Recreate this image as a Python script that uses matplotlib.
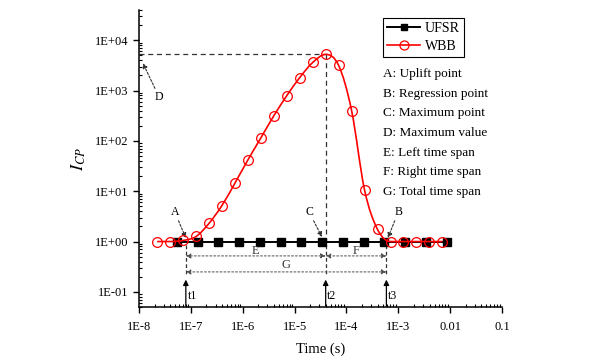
import numpy as np
import matplotlib
matplotlib.use('Agg')
import matplotlib.pyplot as plt
from matplotlib.path import Path
from matplotlib.patches import PathPatch
from matplotlib.lines import Line2D

plt.rcParams['font.family'] = ['Liberation Serif', 'DejaVu Serif']
plt.rcParams['mathtext.fontset'] = 'stix'

# UFSR series (flat at 1)
ufsr_t = [5.37e-8, 1.35e-7, 3.39e-7, 8.51e-7, 2.14e-6, 5.37e-6, 1.35e-5,
          3.39e-5, 8.51e-5, 2.14e-4, 5.37e-4, 1.35e-3, 3.39e-3, 8.51e-3]
ufsr_i = [1.0] * len(ufsr_t)

# WBB series
wbb_t = [2.24e-8, 3.98e-8, 7.08e-8, 1.26e-7, 2.24e-7, 3.98e-7, 7.08e-7, 1.26e-6,
         2.24e-6, 3.98e-6, 7.08e-6, 1.26e-5, 2.24e-5, 3.98e-5, 7.08e-5, 1.26e-4,
         2.24e-4, 3.98e-4, 7.08e-4, 1.26e-3, 2.24e-3, 3.98e-3, 7.08e-3]
wbb_i = [1.0, 1.0, 1.05, 1.26, 2.3, 5.2, 14.5, 42, 115, 316, 794, 1820, 3630,
         5250, 3160, 398, 10.5, 1.74, 1.0, 1.0, 1.0, 1.0, 1.0]

# key times / values
t1, t2, t3 = 8.0e-8, 3.98e-5, 5.9e-4
peak = 5250

xticks = [1e-8, 1e-7, 1e-6, 1e-5, 1e-4, 1e-3, 1e-2, 1e-1]
xticklabels = ['1E-8', '1E-7', '1E-6', '1E-5', '1E-4', '1E-3', '0.01', '0.1']
yticks = [1e-1, 1e0, 1e1, 1e2, 1e3, 1e4]
yticklabels = ['1E-01', '1E+00', '1E+01', '1E+02', '1E+03', '1E+04']

notes = ['A: Uplift point', 'B: Regression point', 'C: Maximum point',
         'D: Maximum value', 'E: Left time span', 'F: Right time span',
         'G: Total time span']


def smooth_path(x, y):
    # monotone cubic (Fritsch-Carlson) as Bezier segments in log-log space
    lx, ly = np.log10(x), np.log10(y)
    h = np.diff(lx)
    d = np.diff(ly) / h
    m = np.zeros_like(lx)
    m[0], m[-1] = d[0], d[-1]
    for k in range(1, len(lx) - 1):
        if d[k - 1] * d[k] > 0:
            m[k] = (d[k - 1] + d[k]) / 2
    for k in range(len(d)):
        if d[k] == 0:
            m[k] = m[k + 1] = 0
        else:
            a, b = m[k] / d[k], m[k + 1] / d[k]
            s = a * a + b * b
            if s > 9:
                tau = 3 / np.sqrt(s)
                m[k], m[k + 1] = tau * a * d[k], tau * b * d[k]
    verts = [(lx[0], ly[0])]
    codes = [Path.MOVETO]
    for k in range(len(h)):
        verts += [(lx[k] + h[k] / 3, ly[k] + m[k] * h[k] / 3),
                  (lx[k + 1] - h[k] / 3, ly[k + 1] - m[k + 1] * h[k] / 3),
                  (lx[k + 1], ly[k + 1])]
        codes += [Path.CURVE4] * 3
    verts = 10 ** np.array(verts)
    return Path(verts, codes)


fig = plt.figure(figsize=(5.91, 3.64), dpi=100)
ax = fig.add_axes([0.2352, 0.1566, 0.6142, 0.8159])
ax.set_xscale('log')
ax.set_yscale('log')
ax.set_xlim(1e-8, 1e-1)
ax.set_ylim(0.05, 4e4)

ax.plot(ufsr_t, ufsr_i, color='black', lw=1.4, marker='s', ms=5.5, zorder=3)
ax.add_patch(PathPatch(smooth_path(wbb_t, wbb_i), fill=False, ec='red', lw=1.2, zorder=4))
ax.plot(wbb_t, wbb_i, ls='none', marker='o', ms=7, mfc='none', mec='red', mew=0.9, zorder=5)

# guide lines
dash = dict(color='0.2', lw=0.9, ls=(0, (4, 3)))
ax.plot([1e-8, t2], [peak, peak], **dash)
ax.plot([t2, t2], [peak, 1.0], **dash)
for t in (t1, t2, t3):
    ax.plot([t, t], [0.85, 0.22], color='0.2', lw=0.9, ls=(0, (3, 2)))
    ax.annotate('', xy=(t, 0.175), xytext=(t, 0.052),
                arrowprops=dict(arrowstyle='-|>', color='black', lw=0.9,
                                mutation_scale=8, shrinkA=0, shrinkB=0))
    ax.text(t * 1.07, 0.083, 't%d' % ((t1, t2, t3).index(t) + 1), fontsize=8.5,
            ha='left', va='center')

span = dict(arrowstyle='<|-|>', color='0.3', lw=0.7, ls=(0, (2, 2)),
            mutation_scale=7, shrinkA=0, shrinkB=0)
ax.annotate('', xy=(t1, 0.518), xytext=(t2, 0.518), arrowprops=span)
ax.annotate('', xy=(t2, 0.518), xytext=(t3, 0.518), arrowprops=span)
ax.annotate('', xy=(t1, 0.249), xytext=(t3, 0.249), arrowprops=span)
ax.text(np.sqrt(t1 * t2), 0.66, 'E', fontsize=9, ha='center', va='center', color='0.2')
ax.text(np.sqrt(t2 * t3), 0.66, 'F', fontsize=9, ha='center', va='center', color='0.2')
ax.text(np.sqrt(t1 * t3), 0.34, 'G', fontsize=9, ha='center', va='center', color='0.2')

# point labels
point = dict(arrowstyle='-|>', color='0.2', lw=0.8, ls=(0, (2, 1.5)),
             mutation_scale=7, shrinkA=0, shrinkB=0)
ax.annotate('A', xy=(t1, 1.18), xytext=(4.9e-8, 3.87), fontsize=8.5, ha='center',
            va='center', arrowprops=point)
ax.annotate('C', xy=(3.38e-5, 1.23), xytext=(1.9e-5, 3.87), fontsize=8.5, ha='center',
            va='center', arrowprops=point)
ax.annotate('B', xy=(6.3e-4, 1.18), xytext=(1.0e-3, 3.87), fontsize=8.5, ha='center',
            va='center', arrowprops=point)
ax.annotate('D', xy=(1.19e-8, 3500), xytext=(2.45e-8, 740), fontsize=8.5, ha='center',
            va='center', arrowprops=point)

ax.set_xticks(xticks)
ax.set_xticklabels(xticklabels)
ax.set_yticks(yticks)
ax.set_yticklabels(yticklabels)
ax.tick_params(which='major', direction='out', length=4, width=1, labelsize=9)
ax.tick_params(axis='x', which='major', pad=6)
ax.tick_params(which='minor', direction='in', length=2.5, width=0.8)
for s in ('top', 'right'):
    ax.spines[s].set_visible(False)
for s in ('left', 'bottom'):
    ax.spines[s].set_linewidth(1.1)

ax.set_xlabel('Time (s)', fontsize=10.5, labelpad=7)
ax.set_ylabel('$I_{CP}$', fontsize=13, labelpad=5)

handles = [Line2D([], [], color='black', lw=1.4, marker='s', ms=5),
           Line2D([], [], color='red', lw=1.2, marker='o', ms=6.5, mfc='none', mew=0.9)]
leg = ax.legend(handles, ['UFSR', 'WBB'], loc='upper left', bbox_to_anchor=(0.672, 0.973),
                fontsize=10, fancybox=False, framealpha=1, edgecolor='black',
                handlelength=2.4, borderpad=0.3, labelspacing=0.35, handletextpad=0.3,
                borderaxespad=0)
leg.get_frame().set_linewidth(0.8)

for k, s in enumerate(notes):
    ax.text(0.672, 0.7845 - k * 0.0663, s, fontsize=9.5, transform=ax.transAxes,
            ha='left', va='center')

fig.savefig('out.png', dpi=100)
